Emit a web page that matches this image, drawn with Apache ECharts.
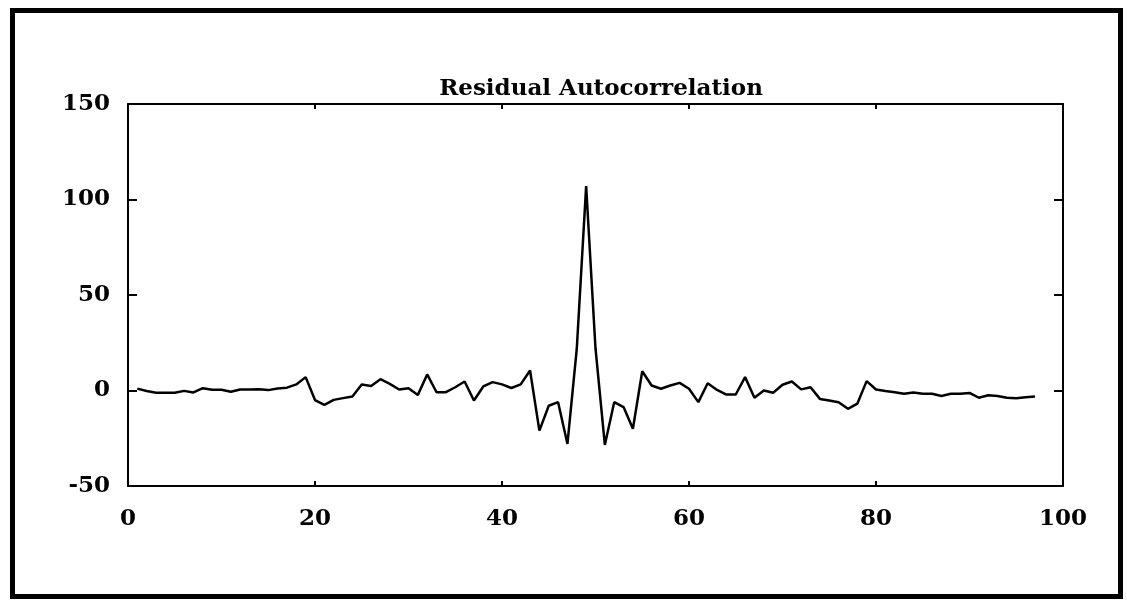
<!DOCTYPE html>
<html>
<head>
<meta charset="utf-8">
<script src="https://cdn.jsdelivr.net/npm/echarts@6/dist/echarts.min.js"></script>
<style>
  html, body { margin: 0; padding: 0; background: #fff; }
  #mainChart { width: 1127px; height: 601px; }
</style>
</head>
<body>
<div id="mainChart"></div>
<script>
// lag index and residual autocorrelation values
var lags = [];
for (var k = 1; k <= 97; k++) lags.push(k);
var acf = [
  1.0, -0.3, -1.2, -1.2, -1.2, -0.2, -1.0, 1.2, 0.4, 0.4,
  -0.7, 0.5, 0.5, 0.6, 0.2, 1.0, 1.5, 3.2, 7.0, -5.0,
  -7.5, -4.9, -4.0, -3.1, 3.1, 2.4, 5.9, 3.5, 0.5, 1.2,
  -2.3, 8.4, -0.9, -0.9, 1.7, 4.7, -5.2, 2.1, 4.4, 3.2,
  1.3, 3.2, 10.5, -21, -8, -6.1, -28, 22, 107, 22,
  -28.5, -6.1, -8.7, -20, 10.1, 2.6, 0.9, 2.6, 4.0, 0.9,
  -6.1, 3.8, 0.3, -2.1, -2.1, 7.0, -3.8, 0.0, -1.2, 3.0,
  4.7, 0.6, 1.7, -4.4, -5.2, -6.1, -9.6, -6.9, 4.9, 0.5,
  -0.3, -0.9, -1.7, -1.0, -1.7, -1.7, -2.9, -1.7, -1.7, -1.3,
  -3.8, -2.5, -2.9, -3.8, -4.0, -3.5, -3.2
];
var xTicks = [0, 20, 40, 60, 80, 100];
var yTicks = [-50, 0, 50, 100, 150];
var titleText = 'Residual Autocorrelation';

var font = 'DejaVu Serif';
var lineData = lags.map(function (x, i) { return [x, acf[i]]; });

function boxAxis(ticks, step, tickLen, extra) {
  var ax = {
    type: 'value',
    min: ticks[0], max: ticks[ticks.length - 1], interval: step,
    axisLine: { show: true, onZero: false, lineStyle: { color: '#000', width: 2 } },
    axisTick: { show: true, inside: true, length: tickLen, lineStyle: { color: '#000', width: 2 } },
    axisLabel: { show: false },
    splitLine: { show: false }
  };
  return Object.assign(ax, extra || {});
}

var myChart = echarts.init(document.getElementById('mainChart'));
myChart.setOption({
  animation: false,
  backgroundColor: '#fff',
  title: {
    text: titleText,
    left: 596,
    top: 73,
    textAlign: 'center',
    textStyle: { fontFamily: font, fontSize: 23, fontWeight: 'bold', color: '#000' }
  },
  graphic: [
    {
      type: 'rect',
      shape: { x: 12.5, y: 10.5, width: 1108, height: 586 },
      style: { fill: 'none', stroke: '#000', lineWidth: 5 }
    }
  ],
  grid: { left: 128, right: 64, top: 104, bottom: 115 },
  xAxis: [
    boxAxis(xTicks, 20, 5, {
      position: 'bottom',
      axisLabel: { show: true, margin: 22, fontFamily: font, fontSize: 23, fontWeight: 'bold', color: '#000' }
    }),
    boxAxis(xTicks, 20, 5, { position: 'top' })
  ],
  yAxis: [
    boxAxis(yTicks, 50, 9, {
      position: 'left',
      axisLabel: { show: true, margin: 18, fontFamily: font, fontSize: 23, fontWeight: 'bold', color: '#000' }
    }),
    boxAxis(yTicks, 50, 9, { position: 'right' })
  ],
  series: [
    {
      type: 'line',
      data: lineData,
      showSymbol: false,
      lineStyle: { color: '#000', width: 2.5 }
    }
  ]
});
</script>
</body>
</html>
